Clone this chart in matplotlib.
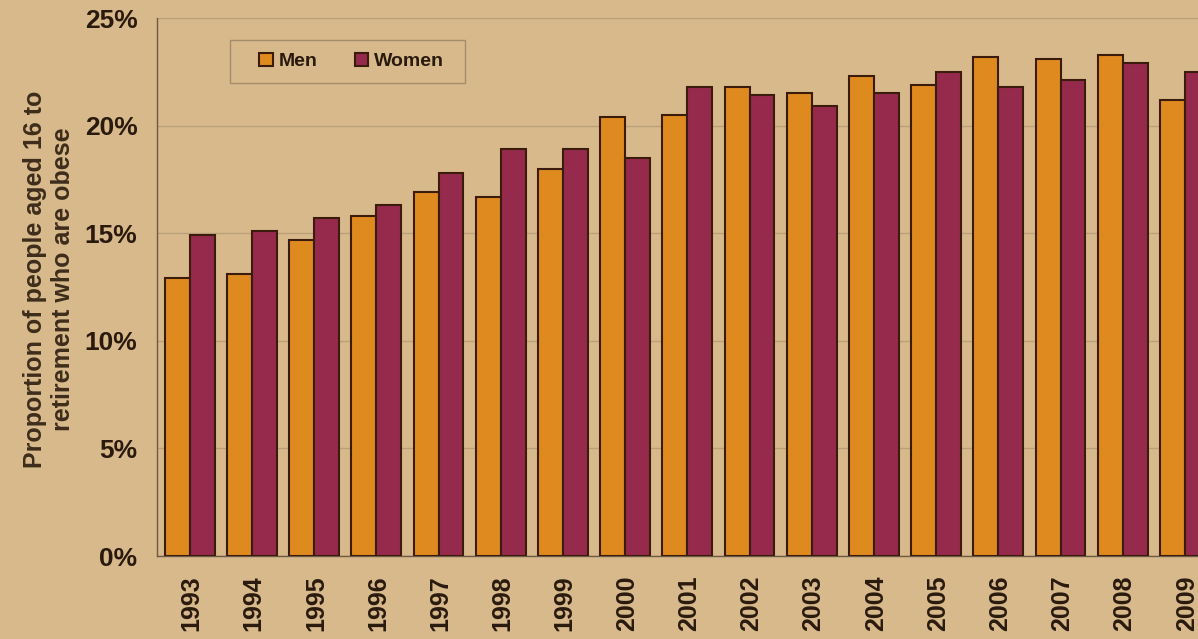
import matplotlib
matplotlib.use("Agg")
import matplotlib.pyplot as plt
import numpy as np
from matplotlib.ticker import FuncFormatter
from matplotlib.patches import Rectangle

years = ["1993", "1994", "1995", "1996", "1997", "1998", "1999", "2000", "2001",
         "2002", "2003", "2004", "2005", "2006", "2007", "2008", "2009"]
men = [12.9, 13.1, 14.7, 15.8, 16.9, 16.7, 18.0, 20.4, 20.5,
       21.8, 21.5, 22.3, 21.9, 23.2, 23.1, 23.3, 21.2]
women = [14.9, 15.1, 15.7, 16.3, 17.8, 18.9, 18.9, 18.5, 21.8,
         21.4, 20.9, 21.5, 22.5, 21.8, 22.1, 22.9, 22.5]
yticks = [0, 5, 10, 15, 20, 25]
ylabel = "Proportion of people aged 16 to\nretirement who are obese"

bg = "#d7b98b"
c_men = "#df8a1f"
c_women = "#962a4c"
edge = "#3b1c0c"
txt = "#2a1a0e"

plt.rcParams['font.family'] = ['Liberation Sans', 'DejaVu Sans']
plt.rcParams['font.weight'] = 'bold'

fig = plt.figure(figsize=(11.98, 6.39), dpi=100, facecolor=bg)
ax = fig.add_axes([157/1198, 83/639, (1198-157)/1198, 538/639])
ax.set_facecolor(bg)

x = np.arange(len(years))
w = 0.40
ax.bar(x - w/2, men, w, color=c_men, edgecolor=edge, linewidth=1.5, label="Men", zorder=3)
ax.bar(x + w/2, women, w, color=c_women, edgecolor=edge, linewidth=1.5, label="Women", zorder=3)

ax.set_xlim(-0.527, 16.21)
ax.set_ylim(0, 25)
ax.set_yticks(yticks)
ax.yaxis.set_major_formatter(FuncFormatter(lambda v, p: f"{int(v)}%"))
ax.set_xticks(x + 0.03)
ax.set_xticklabels(years, rotation=90)
ax.tick_params(axis='y', length=0, pad=14, labelsize=19, labelcolor=txt)
ax.tick_params(axis='x', length=0, pad=14, labelsize=18, labelcolor=txt)
for lab in ax.get_xticklabels() + ax.get_yticklabels():
    lab.set_fontweight('bold')

ax.grid(axis='y', color="#a38c6b", linewidth=1.0, alpha=0.55, zorder=0)
for s in ['top', 'right']:
    ax.spines[s].set_visible(False)
ax.spines['left'].set_color("#6e5a44")
ax.spines['left'].set_linewidth(1.0)
ax.spines['bottom'].set_color("#6e5a44")
ax.spines['bottom'].set_linewidth(1.0)

ax.set_ylabel(ylabel, fontsize=18, fontweight='bold', color="#3e2c1c",
              labelpad=7, linespacing=1.2)
ax.yaxis.label.set_y(0.515)

leg = ax.legend(loc='center', bbox_to_anchor=(0.187, 0.919),
                ncol=2, frameon=False, fontsize=14,
                handlelength=0.7, handleheight=0.7, handletextpad=0.3,
                columnspacing=1.9, borderpad=0.0, borderaxespad=0)
for t in leg.get_texts():
    t.set_fontweight('bold')
    t.set_color(txt)
for h in leg.legend_handles:
    h.set_edgecolor(edge)
ax.add_patch(Rectangle((0.0701, 0.879), 0.2259, 0.080, transform=ax.transAxes,
                       fill=False, edgecolor="#a48d6c", linewidth=1.0, zorder=4))

fig.savefig("out.png", dpi=100, facecolor=bg)
